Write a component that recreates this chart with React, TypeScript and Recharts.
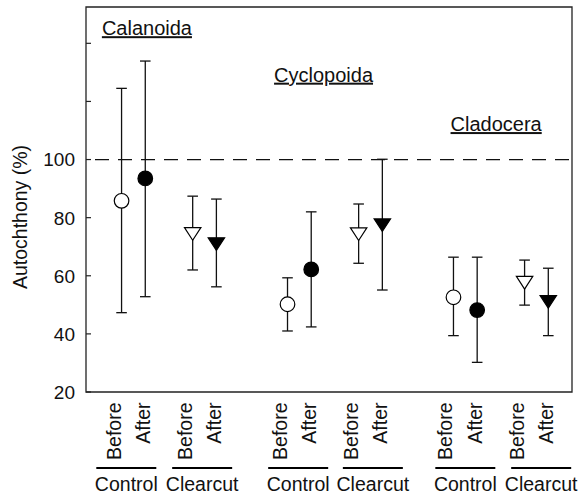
import { ScatterChart, Scatter, XAxis, YAxis, ErrorBar, ReferenceLine, ReferenceArea, ReferenceDot } from 'recharts'

// x slots: pairs of Before/After, gaps between groups
const POSITIONS = [0, 1, 3, 4, 7, 8, 10, 11, 14, 15, 17, 18]
const TIMES = ['Before', 'After', 'Before', 'After', 'Before', 'After', 'Before', 'After', 'Before', 'After', 'Before', 'After']
const MARKERS = ['openCircle', 'fullCircle', 'openTri', 'fullTri', 'openCircle', 'fullCircle', 'openTri', 'fullTri', 'openCircle', 'fullCircle', 'openTri', 'fullTri']
const MEANS = [85.8, 93.5, 74.4, 70.9, 50.2, 62.2, 74.3, 77.4, 52.6, 48.2, 57.6, 51.0]
const LOWER = [47.3, 52.8, 62.0, 56.2, 41.0, 42.4, 64.3, 55.1, 39.4, 30.2, 49.9, 39.4]
const UPPER = [124.5, 133.9, 87.4, 86.4, 59.3, 82.0, 84.7, 100.1, 66.4, 66.4, 65.4, 62.6]

const GROUPS = ['Control', 'Clearcut', 'Control', 'Clearcut', 'Control', 'Clearcut']
const GROUP_POS = [0.2, 3.4, 7.45, 10.6, 14.5, 17.7]

const TAXA = ['Calanoida', 'Cyclopoida', 'Cladocera']
const TAXA_X = [1.07, 8.52, 15.8]
const TAXA_Y = [142.8, 126.8, 109.8]

const Y_TICKS = [20, 40, 60, 80, 100, 120, 140]

const FONT = '"Liberation Sans", Arial, sans-serif'
const INK = '#111'

const data = POSITIONS.map((x, i) => ({
  x,
  y: MEANS[i],
  err: [MEANS[i] - LOWER[i], UPPER[i] - MEANS[i]],
  marker: MARKERS[i],
}))

// invisible anchors so the group axis has something bound to it
const groupData = GROUP_POS.map((g) => ({ g, y: 20 }))

function Marker(props: any) {
  const { cx, cy, payload } = props
  if (cx == null || cy == null) return null
  const m = payload.marker
  const fill = m.startsWith('full') ? '#000' : '#fff'
  if (m.endsWith('Circle')) {
    return <circle cx={cx} cy={cy} r={7.3} fill={fill} stroke="#000" strokeWidth={1.2} />
  }
  const pts = `${cx - 8.2},${cy - 6.3} ${cx + 8.2},${cy - 6.3} ${cx},${cy + 6.3}`
  return <polygon points={pts} fill={fill} stroke="#000" strokeWidth={1.2} />
}

function TimeTick(props: any) {
  const { x, y, payload } = props
  const label = TIMES[POSITIONS.indexOf(payload.value)]
  const dx = label === 'After' ? 5 : -1
  return (
    <text
      transform={`translate(${x + dx},${y + 10.5}) rotate(-90)`}
      textAnchor="end"
      fontSize={19.5}
      fontFamily={FONT}
      fill={INK}
    >
      {label}
    </text>
  )
}

function GroupTick(props: any) {
  const { x, y, payload } = props
  const label = GROUPS[GROUP_POS.indexOf(payload.value)]
  return (
    <g>
      <line x1={x - 30} x2={x + 30} y1={y + 10} y2={y + 10} stroke="#000" strokeWidth={2.2} />
      <text x={x} y={y + 33} textAnchor="middle" fontSize={19.5} fontFamily={FONT} fill={INK}>
        {label}
      </text>
    </g>
  )
}

function ValueTick(props: any) {
  const { x, y, payload } = props
  return (
    <g>
      <line x1={x + 11} x2={x + 16} y1={y} y2={y} stroke="#222" strokeWidth={1.2} />
      {payload.value <= 100 && (
        <text x={x} y={y} dy="0.36em" textAnchor="end" fontSize={19} fontFamily={FONT} fill={INK}>
          {payload.value}
        </text>
      )}
    </g>
  )
}

function YTitle(props: any) {
  const vb = props.viewBox || { x: 0, y: 7, width: 86, height: 385 }
  const cx = vb.x + 27
  const cy = vb.y + vb.height / 2 + 17.5
  return (
    <text transform={`translate(${cx},${cy}) rotate(-90)`} textAnchor="middle" fontSize={19.5} fontFamily={FONT} fill={INK}>
      Autochthony (%)
    </text>
  )
}

export default function App() {
  return (
    <div style={{ position: 'absolute', left: 0, top: 0 }}>
      <ScatterChart width={578} height={496} margin={{ top: 7, right: 6, left: 0, bottom: 0 }}>
        <XAxis
          dataKey="x"
          type="number"
          domain={[-1.5, 19]}
          ticks={POSITIONS}
          interval={0}
          height={66}
          axisLine={false}
          tickLine={false}
          tickSize={0}
          tickMargin={0}
          tick={<TimeTick />}
        />
        <XAxis
          xAxisId="g"
          dataKey="g"
          type="number"
          domain={[-1.5, 19]}
          ticks={GROUP_POS}
          interval={0}
          height={38}
          axisLine={false}
          tickLine={false}
          tickSize={0}
          tickMargin={0}
          tick={<GroupTick />}
        />
        <YAxis
          dataKey="y"
          type="number"
          domain={[20, 152.5]}
          ticks={Y_TICKS}
          interval={0}
          width={86}
          axisLine={false}
          tickLine={false}
          tickSize={5}
          tickMargin={6}
          tick={<ValueTick />}
          label={(p: any) => <YTitle {...p} />}
        />
        <ReferenceArea x1={-1.5} x2={19} y1={20} y2={152.5} fill="none" stroke="#222" strokeWidth={1.3} />
        <ReferenceLine y={100} stroke="#111" strokeWidth={1.3} strokeDasharray="14 9" strokeDashoffset={14} />
        {TAXA.map((name, i) => (
          <ReferenceDot
            key={name}
            x={TAXA_X[i]}
            y={TAXA_Y[i]}
            r={0}
            shape={(p: any) => (
              <text x={p.cx} y={p.cy} textAnchor="middle" fontSize={20} fontFamily={FONT} fill={INK} textDecoration="underline">
                {name}
              </text>
            )}
          />
        ))}
        <Scatter xAxisId="g" data={groupData} dataKey="y" shape={() => <g />} isAnimationActive={false} />
        <Scatter data={data} shape={<Marker />} isAnimationActive={false}>
          <ErrorBar dataKey="err" direction="y" width={5.3} stroke="#111" strokeWidth={1.3} />
        </Scatter>
      </ScatterChart>
    </div>
  )
}
